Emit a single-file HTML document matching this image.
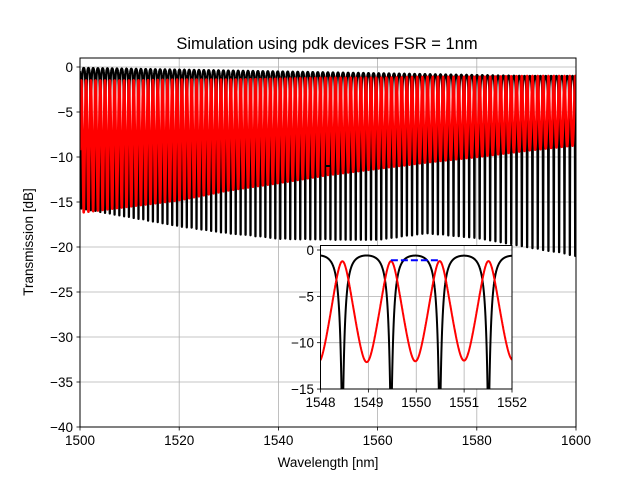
<!DOCTYPE html>
<html><head><meta charset="utf-8"><style>
body{margin:0;background:#fff}
svg text{font-family:"Liberation Sans","DejaVu Sans",sans-serif;fill:#000}
</style></head><body>
<svg id="chart" width="640" height="480" viewBox="0 0 640 480" xmlns="http://www.w3.org/2000/svg">
<defs>
<clipPath id="mainClip"><rect x="80" y="58" width="496" height="369"/></clipPath>
<clipPath id="insetClip"><rect x="320.5" y="245.5" width="191.5" height="143.5"/></clipPath>
</defs>
<rect width="640" height="480" fill="#fff"/>
<text x="327" y="49" font-size="16.5" text-anchor="middle">Simulation using pdk devices FSR = 1nm</text>
<g id="mainGrid"></g>
<g clip-path="url(#mainClip)" id="mainSeries"></g>
<rect x="80" y="58" width="496" height="369" fill="none" stroke="#000" stroke-width="1"/>
<g id="mainTicks"></g>
<text x="328" y="467" font-size="13.5" text-anchor="middle">Wavelength [nm]</text>
<text x="0" y="0" font-size="13.5" text-anchor="middle" transform="translate(33,242) rotate(-90)">Transmission [dB]</text>
<rect x="320.5" y="245.5" width="191.5" height="143.5" fill="#fff"/>
<g id="insetGrid"></g>
<g clip-path="url(#insetClip)" id="insetSeries"></g>
<rect x="320.5" y="245.5" width="191.5" height="143.5" fill="none" stroke="#000" stroke-width="1"/>
<g id="insetTicks"></g>
</svg>
<script>
// envelope data (dB) sampled at knot wavelengths
const lamKnots = [1500,1510,1520,1530,1540,1550,1560,1570,1580,1590,1600];
const blackMax = [-0.1,-0.2,-0.3,-0.4,-0.5,-0.6,-0.7,-0.8,-0.9,-1.0,-1.0];
const blackMin = [-15.7,-16.7,-17.7,-18.5,-19.1,-19.2,-19.2,-18.5,-19.0,-20.0,-21.0];
const redMax = [-1.5,-1.5,-1.4,-1.4,-1.3,-1.2,-1.2,-1.1,-1.1,-1.0,-1.0];
const redMin = [-16.2,-15.5,-14.8,-13.7,-12.9,-12.0,-11.3,-10.6,-10.0,-9.3,-8.7];
const fsrNm = [1.017];
const resonanceNm = [1550.49];
const fsrMarker = [1549.47, 1550.48];
const fsrMarkerMainDb = [-11.0];
const fsrMarkerInsetDb = [-1.1];
const mainXTicks = [1500,1520,1540,1560,1580,1600];
const mainYTicks = [0,-5,-10,-15,-20,-25,-30,-35,-40];
const insetXTicks = [1548,1549,1550,1551,1552];
const insetYTicks = [0,-5,-10,-15];

const NS='http://www.w3.org/2000/svg';
function mk(tag,attrs,parent){const e=document.createElementNS(NS,tag);for(const k in attrs)e.setAttribute(k,attrs[k]);parent.appendChild(e);return e;}
const mx=v=>80+(v-1500)/100*496, my=v=>58+(1-v)/41*369;
const ix=v=>320.5+(v-1548)/4*191.5, iy=v=>250+(0-v)*9.27;
function interp(arr,l){if(l<=lamKnots[0])return arr[0];for(let i=1;i<lamKnots.length;i++){if(l<=lamKnots[i]){const t=(l-lamKnots[i-1])/(lamKnots[i]-lamKnots[i-1]);return arr[i-1]+t*(arr[i]-arr[i-1]);}}return arr[arr.length-1];}
const lin=d=>Math.pow(10,d/10), db=x=>10*Math.log10(x);
function phase(l){return 2*Math.PI*1550*1550/fsrNm[0]*(1/resonanceNm[0]-1/l);}
const G=6,F=3;
function black(l){const s=Math.sin(phase(l)/2)**2;const sm=1/(1+G);const sn=(1/(1+G*s)-sm)/(1-sm);const a=lin(interp(blackMax,l)),b=lin(interp(blackMin,l));return db(b+(a-b)*(1-sn));}
function red(l){const s=Math.sin(phase(l)/2)**2;const sm=1/(1+F);const sn=(1/(1+F*s)-sm)/(1-sm);const a=lin(interp(redMax,l)),b=lin(interp(redMin,l));return db(b+(a-b)*sn);}
function series(fn,x0,x1,n,X,Y){let p=[];for(let i=0;i<=n;i++){const l=x0+(x1-x0)*i/n;p.push(X(l).toFixed(2)+','+Y(fn(l)).toFixed(2));}return p.join(' ');}

const mg=document.getElementById('mainGrid'), mt=document.getElementById('mainTicks');
mainXTicks.forEach(t=>{
  const g=mk('line',{x1:mx(t),x2:mx(t),y1:58,y2:427,stroke:'#b0b0b0','stroke-width':0.8},mg);
  
  
  const k=mk('line',{x1:mx(t),x2:mx(t),y1:427,y2:430.5,stroke:'#000','stroke-width':0.8},mt);
  
  
  const tx=mk('text',{x:mx(t),y:445,'font-size':13.5,'text-anchor':'middle'},mt);tx.textContent=t;
  
  
});
mainYTicks.forEach(t=>{
  const g=mk('line',{x1:80,x2:576,y1:my(t),y2:my(t),stroke:'#b0b0b0','stroke-width':0.8},mg);
  
  
  const k=mk('line',{x1:76.5,x2:80,y1:my(t),y2:my(t),stroke:'#000','stroke-width':0.8},mt);
  
  
  const tx=mk('text',{x:73,y:my(t)+5,'font-size':13.5,'text-anchor':'end'},mt);tx.textContent=String(t).replace('-','\u2212');
  
  
});
const ms=document.getElementById('mainSeries');
const bl=mk('polyline',{points:series(black,1500,1600,24000,mx,my),fill:'none',stroke:'#000','stroke-width':2.3,'stroke-linejoin':'round'},ms);


const rl=mk('polyline',{points:series(red,1500,1600,24000,mx,my),fill:'none',stroke:'#f00','stroke-width':2.6,'stroke-linejoin':'round'},ms);


const fm=mk('line',{x1:mx(fsrMarker[0]),x2:mx(fsrMarker[1]),y1:my(fsrMarkerMainDb[0]),y2:my(fsrMarkerMainDb[0]),stroke:'#000','stroke-width':2},ms);



const ig=document.getElementById('insetGrid'), it=document.getElementById('insetTicks');
insetXTicks.forEach(t=>{
  const g=mk('line',{x1:ix(t),x2:ix(t),y1:245.5,y2:389,stroke:'#b0b0b0','stroke-width':0.8},ig);
  
  
  const k=mk('line',{x1:ix(t),x2:ix(t),y1:389,y2:392.5,stroke:'#000','stroke-width':0.8},it);
  
  
  const tx=mk('text',{x:ix(t),y:407,'font-size':13.5,'text-anchor':'middle'},it);tx.textContent=t;
  
  
});
insetYTicks.forEach(t=>{
  const g=mk('line',{x1:320.5,x2:512,y1:iy(t),y2:iy(t),stroke:'#b0b0b0','stroke-width':0.8},ig);
  
  
  const k=mk('line',{x1:317,x2:320.5,y1:iy(t),y2:iy(t),stroke:'#000','stroke-width':0.8},it);
  
  
  const tx=mk('text',{x:314,y:iy(t)+5,'font-size':13.5,'text-anchor':'end'},it);tx.textContent=String(t).replace('-','\u2212');
  
  
});
const is=document.getElementById('insetSeries');
const ibl=mk('polyline',{points:series(black,1548,1552,4000,ix,iy),fill:'none',stroke:'#000','stroke-width':2,'stroke-linejoin':'round'},is);


const irl=mk('polyline',{points:series(red,1548,1552,4000,ix,iy),fill:'none',stroke:'#f00','stroke-width':2,'stroke-linejoin':'round'},is);


const ifm=mk('line',{x1:ix(fsrMarker[0]),x2:ix(fsrMarker[1]),y1:iy(fsrMarkerInsetDb[0]),y2:iy(fsrMarkerInsetDb[0]),stroke:'#00f','stroke-width':2,'stroke-dasharray':'7,3'},is);


</script>
</body></html>
